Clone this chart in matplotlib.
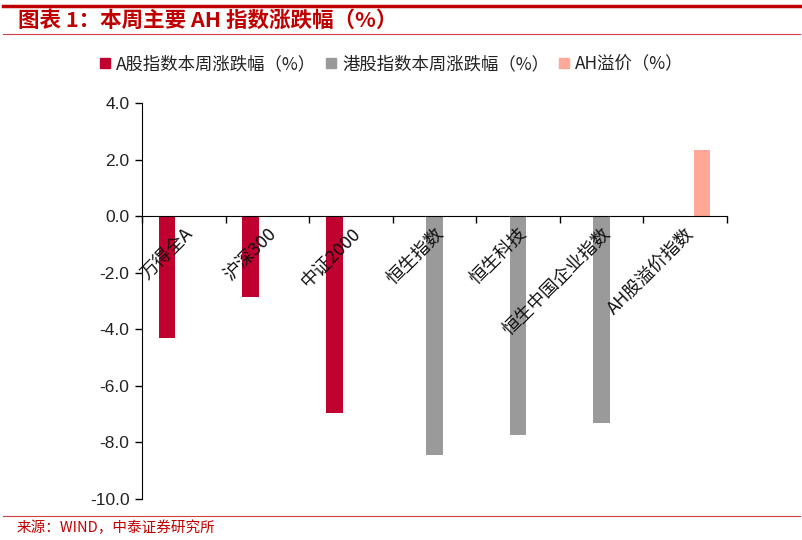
import matplotlib.pyplot as plt
import numpy as np
from matplotlib.lines import Line2D

plt.rcParams['font.family'] = ['Noto Sans CJK SC', 'DejaVu Sans']

categories = ['万得全A', '沪深300', '中证2000', '恒生指数', '恒生科技', '恒生中国企业指数', 'AH股溢价指数']
a_share = [-4.31, -2.86, -6.96, 0, 0, 0, 0]
hk_share = [0, 0, 0, -8.45, -7.74, -7.31, 0]
ah_premium = [0, 0, 0, 0, 0, 0, 2.33]
series_names = ['A股指数本周涨跌幅（%）', '港股指数本周涨跌幅（%）', 'AH溢价（%）']
colors = ['#C0002E', '#9A9A9A', '#FFA898']
yticks = [4.0, 2.0, 0.0, -2.0, -4.0, -6.0, -8.0, -10.0]

red = '#C00000'

fig = plt.figure(figsize=(8.03, 5.40), dpi=100)
ax = fig.add_axes([142 / 803, 1 - 499 / 540, 585 / 803, 396 / 540])

x = np.arange(len(categories))
w = 0.2
for i, (vals, c) in enumerate(zip([a_share, hk_share, ah_premium], colors)):
    ax.bar(x + (i - 1) * w, vals, width=w, color=c, zorder=1)

ax.set_xlim(-0.5, len(categories) - 0.5)
ax.set_ylim(-10, 4)
ax.set_yticks(yticks)
ax.set_yticklabels([f'{v:.1f}' for v in yticks],
                   family=['Liberation Sans', 'DejaVu Sans'], fontsize=12.5, color='#222222')
ax.tick_params(axis='y', direction='out', length=5, width=1, pad=4)

ax.spines['top'].set_visible(False)
ax.spines['right'].set_visible(False)
ax.spines['bottom'].set_position(('data', 0))
ax.spines['bottom'].set_zorder(3)

ax.set_xticks(np.arange(len(categories) + 1) - 0.5)
ax.set_xticklabels([])
ax.tick_params(axis='x', which='major', direction='out', length=5, width=1)
ax.set_xticks(x, minor=True)
ax.set_xticklabels(categories, minor=True, rotation=45, ha='right', va='top',
                   rotation_mode='anchor', fontsize=13, color='#111111')
ax.tick_params(axis='x', which='minor', length=0, pad=6)
ax.xaxis.set_zorder(5)

handles = [Line2D([], [], marker='s', linestyle='none', markersize=7.5, color=c) for c in colors]
fig.legend(handles, series_names, loc='center', bbox_to_anchor=(0.487, 1 - 64 / 540), ncol=3,
           frameon=False, fontsize=12.5, handletextpad=0.3, columnspacing=0.5,
           handlelength=0.7, labelcolor='#222222')

# title and rules
fig.add_artist(Line2D([3 / 803, 800 / 803], [1 - 5.5 / 540] * 2, color=red, lw=2.5))
fig.add_artist(Line2D([3 / 803, 800 / 803], [1 - 34 / 540] * 2, color='#D04040', lw=0.8))
fig.text(18 / 803, 1 - 20 / 540, '图表 1：本周主要 AH 指数涨跌幅（%）', color=red,
         fontsize=15.5, fontweight='bold', va='center', ha='left')

fig.add_artist(Line2D([3 / 803, 800 / 803], [1 - 515.5 / 540] * 2, color='#D04040', lw=0.8))
fig.text(17 / 803, 1 - 528 / 540, '来源：WIND，中泰证券研究所', color=red,
         fontsize=10.5, va='center', ha='left')

fig.savefig('out.png', dpi=100)
